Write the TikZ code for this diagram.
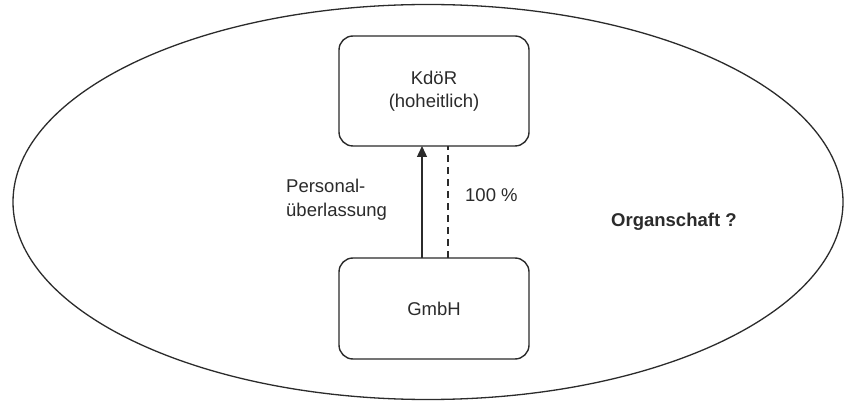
\documentclass[tikz,border=0pt]{standalone}
\usepackage{fontspec}
\setmainfont{Liberation Sans}
\usetikzlibrary{arrows.meta,shapes.geometric}
\definecolor{ink}{HTML}{2B2B2B}
\begin{document}
\begin{tikzpicture}[x=1pt,y=-1pt,
  box/.style={draw=ink,line width=1.4pt,rounded corners=14pt,minimum width=190pt,inner sep=0pt,align=center,text=ink,font=\fontsize{18.5}{23}\selectfont},
  lbl/.style={text=ink,font=\fontsize{18.5}{24}\selectfont,inner sep=0pt}]
\useasboundingbox (0,0) rectangle (844,403);
\fill[white] (0,0) rectangle (844,403);
\node[draw=ink,line width=1.3pt,ellipse,minimum width=830pt,minimum height=395pt,inner sep=0pt] (ell) at (428,202) {};
\node[box,minimum height=110pt] (k) at (434,91) {KdöR\\(hoheitlich)};
\node[box,minimum height=101pt] (g) at (434,308.5) {GmbH};
\coordinate (gs) at (422,258);
\coordinate (ks) at (422,146);
\coordinate (gd) at (448,258);
\coordinate (kd) at (448,146);
\draw[ink,line width=1.4pt,-{Triangle[length=11pt,width=10pt]}] (gs) -- (ks);
\draw[ink,line width=1.2pt,dash pattern=on 7pt off 5pt] (gd) -- (kd);
\node[lbl,align=left,anchor=west] (p) at (286,200) {Personal-\\überlassung};
\node[lbl,anchor=west] (h) at (465,195) {100 \%};
\node[lbl,anchor=west,font=\fontsize{18.5}{22}\selectfont\bfseries] (o) at (611,222) {Organschaft ?};
\end{tikzpicture}
\end{document}
